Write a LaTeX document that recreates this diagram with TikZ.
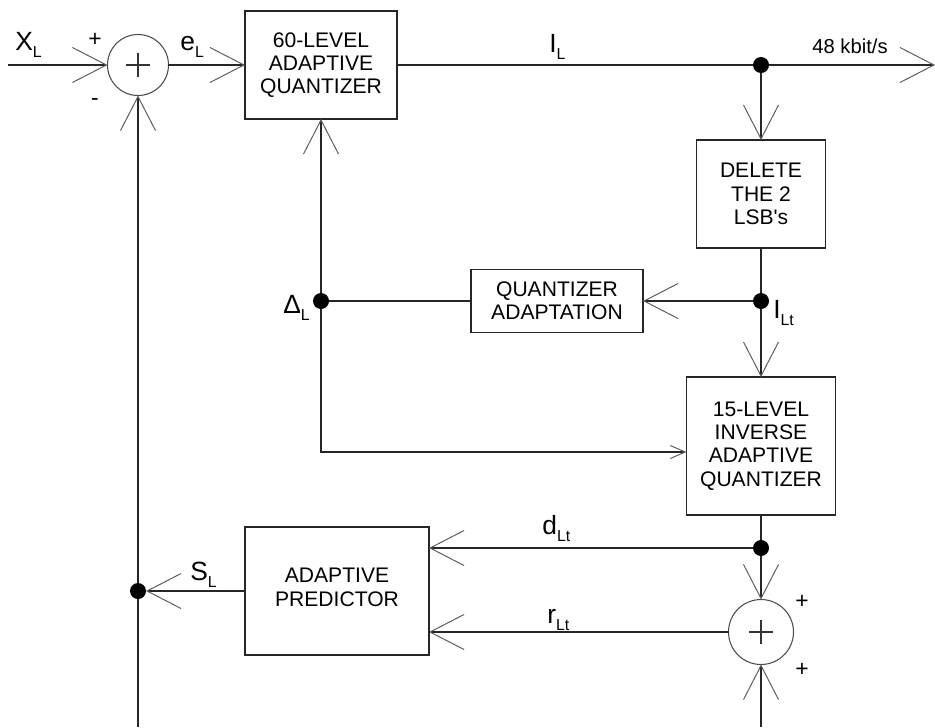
\documentclass[tikz,border=0pt]{standalone}
\usepackage{fontspec}
\setmainfont{Liberation Sans}[Ligatures=TeXOff]
\usetikzlibrary{arrows.meta}
\newcommand\lbl[2]{{\fontsize{15}{15}\selectfont #1}\raisebox{-4pt}{\fontsize{9}{9}\selectfont #2}}
\begin{document}
\begin{tikzpicture}[x=0.02cm,y=-0.02cm,
  line/.style={draw=black!85, line width=0.85pt},
  arr/.style={line, -{Straight Barb[length=0.68cm,width=0.7cm,line width=0.55pt,color=black!65]}},
  sarr/.style={line, -{Straight Barb[length=0.3cm,width=0.26cm,line width=0.55pt,color=black!65]}},
  blk/.style={draw=black!85, line width=0.85pt, align=center, inner sep=0pt, outer sep=0pt,
    font=\fontsize{12}{13.2}\selectfont},
  sum/.style={circle, draw=black!70, line width=0.6pt, inner sep=0pt, outer sep=0pt},
  dot/.style={circle, fill=black, minimum size=0.32cm, inner sep=0pt, outer sep=0pt},
  lab/.style={anchor=base west, inner sep=0pt},
  sgn/.style={inner sep=0pt, font=\fontsize{13}{13}\selectfont}
]
\useasboundingbox (0,0) rectangle (935,727);

% blocks
\node[blk, minimum width=3.04cm, minimum height=2.16cm] (q60) at (321,65) {60-LEVEL\\ADAPTIVE\\QUANTIZER};
\node[blk, minimum width=2.58cm, minimum height=2.16cm] (del) at (761,194) {DELETE\\THE 2\\LSB's};
\node[blk, minimum width=3.44cm, minimum height=1.26cm] (qa) at (557,301) {QUANTIZER\\ADAPTATION};
\node[blk, minimum width=2.98cm, minimum height=2.76cm] (q15) at (761,446) {15-LEVEL\\INVERSE\\ADAPTIVE\\QUANTIZER};
\node[blk, minimum width=3.68cm, minimum height=2.56cm] (ap) at (337,591) {ADAPTIVE\\PREDICTOR\\[-9pt]\mbox{}};

% summing junctions
\node[sum, minimum size=1.22cm] (s1) at (138,65) {};
\node[sum, minimum size=1.3cm] (s2) at (761,632) {};
\draw[black!80, line width=0.6pt] (s1.center) +(-12,0) -- +(12,0) (s1.center) +(0,-12) -- +(0,12);
\draw[black!80, line width=0.6pt] (s2.center) +(-12,0) -- +(12,0) (s2.center) +(0,-12) -- +(0,12);

% junction dots
\node[dot] (j1) at (761,65) {};
\node[dot] (j2) at (761,301) {};
\node[dot] (j3) at (321,301) {};
\node[dot] (j4) at (761,548) {};
\node[dot] (j5) at (138,591) {};

% free ends
\coordinate (xin) at (8,65);
\coordinate (out) at (935,65);
\coordinate (bot1) at (138,727);
\coordinate (bot2) at (761,727);

% connectors
\draw[arr] (xin) -- (s1.west);
\draw[arr] (s1.east) -- (q60.west);
\draw[line] (q60.east) -- (j1);
\draw[arr] (j1) -- (out);
\draw[arr] (j1) -- (del.north);
\draw[line] (del.south) -- (j2);
\draw[arr] (j2) -- (qa.east);
\draw[line] (qa.west) -- (j3);
\draw[arr] (j3) -- (q60.south);
\draw[arr] (j2) -- (q15.north);
\draw[sarr] (j3) |- ([yshift=-0.12cm]q15.west);
\draw[line] (q15.south) -- (j4);
\draw[arr] (j4) -- (ap.east |- j4);
\draw[arr] (j4) -- (s2.north);
\draw[arr] (s2.west) -- (ap.east |- s2.west);
\draw[arr] (bot2) -- (s2.south);
\draw[arr] (ap.west) -- (j5);
\draw[line] (bot1) -- (j5);
\draw[arr] (j5) -- (s1.south);

% labels
\node[lab] (lx) at (15,50) {\lbl{X}{L}};
\node[sgn] (p1) at (95,40) {+};
\node[sgn] (m1) at (95,102) {-};
\node[lab] (le) at (180,50) {\lbl{e}{L}};
\node[lab] (li) at (549,52) {\lbl{I}{L}};
\node[inner sep=0pt, font=\fontsize{11.5}{12}\selectfont] (rate) at (850,46) {48 kbit/s};
\node[lab] (ld) at (283,313) {\lbl{Δ}{L}};
\node[lab] (lit) at (773,318) {\lbl{I}{Lt}};
\node[lab] (ldl) at (542,534) {\lbl{d}{Lt}};
\node[lab] (lr) at (547,623) {\lbl{r}{Lt}};
\node[lab] (ls) at (190,580) {\lbl{S}{L}};
\node[sgn] (p2) at (802,602) {+};
\node[sgn] (p3) at (802,670) {+};
\end{tikzpicture}
\end{document}
